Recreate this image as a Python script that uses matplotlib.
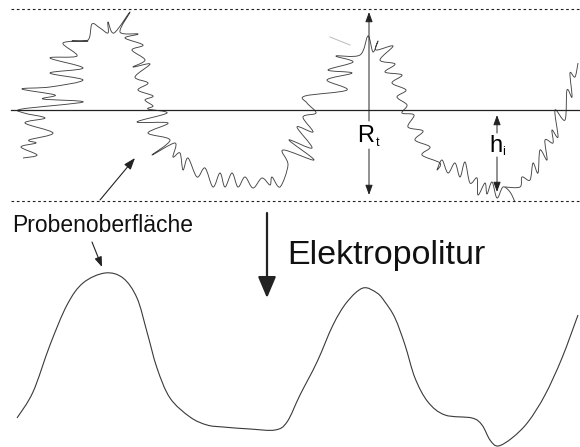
import numpy as np
import matplotlib.pyplot as plt
from matplotlib.path import Path
from matplotlib.patches import PathPatch

plt.rcParams['font.family'] = ['Liberation Sans', 'DejaVu Sans']

# rough surface profile (pixel coords, y down)
rough_a = [(23,158),(37,155),(21,147),(36,143),(29,140),(53,133),(25,123),(45,118),(24,113),(22,109),
           (83,102),(43,99),(55,95),(22,89),(50,87),(83,80),(50,73),(83,68),(50,58),(77,56),
           (63,43),(88,41),(72,41),(88,40),(92,24),(100,28),(108,33),(108,22),(114,33),(130,12),
           (120,32),(138,34),(125,38),(143,45),(132,50),(145,60),(133,67),(150,64),(135,77),(148,83),
           (138,90),(153,96),(145,100),(153,106),(148,109),(167,113),(137,122),(168,123),(148,133),(170,140),
           (152,155),(175,143),(173,157),(180,153),(183,170),(188,158),(197,177),(205,168),(213,187),(220,173),
           (225,187),(232,173),(238,187),(245,177),(253,188),(262,178),(270,185),(272,177),(280,187),(288,165),
           (283,150),(314,160),(289,140),(312,148),(297,127),(313,132),(303,117),(316,113),(307,103),(305,96),
           (347,90),(327,80),(352,73),(328,70),(353,62),(336,56),(360,55),(368,36),(373,52),(378,41),
           (376,50),(393,46),(380,60),(395,64),(385,72),(402,75),(392,83),(406,90),(397,97),(407,105),
           (402,113),(414,115),(408,127),(423,131),(415,140),(430,147),(422,155),(440,163),(437,170),(442,160),
           (448,173),(455,163),(460,177),(465,162),(470,183),(477,178),(478,195),(485,183),(487,194),(492,182),
           (497,198),(503,187),(510,192),(515,202)]
rough_b = [(505,187),(520,187),(522,177),(530,180),(533,163),(538,173),(540,150),(547,160),(545,140),(553,143),
           (552,130),(558,137),(555,110),(565,120),(567,90),(572,97),(570,73),(575,77),(578,63)]

# profile after electropolishing
smooth_x = [17,33,50,67,83,105,123,137,147,157,170,190,207,223,250,275,287,300,317,333,
            347,363,377,385,395,405,415,428,445,472,482,490,498,512,528,545,562,578]
smooth_y = [418,392,345,305,283,273,278,298,332,368,398,417,425,427,429,430,422,395,362,325,
            302,288,293,302,318,345,378,402,415,418,425,440,446,438,422,395,358,315]

top_y, mid_y, bot_y = 9, 110, 201


def curve_path(pts):
    # Catmull-Rom style cubic segments through the read points
    p = np.asarray(pts, dtype=float)
    p = np.vstack([p[0], p, p[-1]])
    verts = [p[1]]
    codes = [Path.MOVETO]
    for i in range(1, len(p) - 2):
        c1 = p[i] + (p[i + 1] - p[i - 1]) / 6
        c2 = p[i + 1] - (p[i + 2] - p[i]) / 6
        verts += [c1, c2, p[i + 1]]
        codes += [Path.CURVE4] * 3
    return Path(verts, codes)


fig = plt.figure(figsize=(5.8, 4.47), dpi=100)
ax = fig.add_axes([0, 0, 1, 1])
ax.set_xlim(0, 580)
ax.set_ylim(447, 0)
ax.axis('off')

# reference lines
ax.plot([11, 580], [top_y, top_y], color='#222', lw=0.8, dashes=(2.4, 2.4))
ax.plot([11, 580], [bot_y, bot_y], color='#222', lw=0.8, dashes=(2.4, 2.4))
ax.plot([11, 580], [mid_y, mid_y], color='#222', lw=0.9)

for pts in (rough_a, rough_b):
    ax.add_patch(PathPatch(curve_path(pts), fill=False, ec='#444444', lw=0.65, joinstyle='round'))
ax.plot([330, 350], [37, 45], color='#bbbbbb', lw=0.7)

smooth_pts = list(zip(smooth_x, smooth_y))
ax.add_patch(PathPatch(curve_path(smooth_pts), fill=False, ec='#3a3a3a', lw=0.8))


def arrow(x0, y0, x1, y1, lw=0.7, hl=0.6, hw=0.22):
    ax.annotate('', xy=(x1, y1), xytext=(x0, y0),
                arrowprops=dict(arrowstyle=f'-|>,head_length={hl},head_width={hw}',
                                lw=lw, color='#222', shrinkA=0, shrinkB=0))


# R_t
arrow(369, 121, 369, 12)
arrow(369, 149, 369, 195)
ax.text(357, 142, 'R', fontsize=17, va='baseline', ha='left')
ax.text(376, 146, 't', fontsize=9, va='baseline', ha='left')

# h_i
arrow(497, 133, 497, 115)
arrow(497, 157, 497, 192)
ax.text(489, 152, 'h', fontsize=17, va='baseline', ha='left')
ax.text(502, 155, 'i', fontsize=9, va='baseline', ha='left')

# pointers
arrow(100, 200, 135, 158, lw=0.8, hl=0.7, hw=0.25)
arrow(92, 242, 102, 267, lw=0.8, hl=0.6, hw=0.22)
ax.text(12, 232, 'Probenoberfläche', fontsize=16.5, va='baseline', ha='left', color='#111')

# electropolishing arrow
arrow(267, 213, 267, 298, lw=1.6, hl=1.3, hw=0.55)
ax.text(287, 264, 'Elektropolitur', fontsize=24.5, va='baseline', ha='left', color='#111')

fig.savefig('out.png', dpi=100)
